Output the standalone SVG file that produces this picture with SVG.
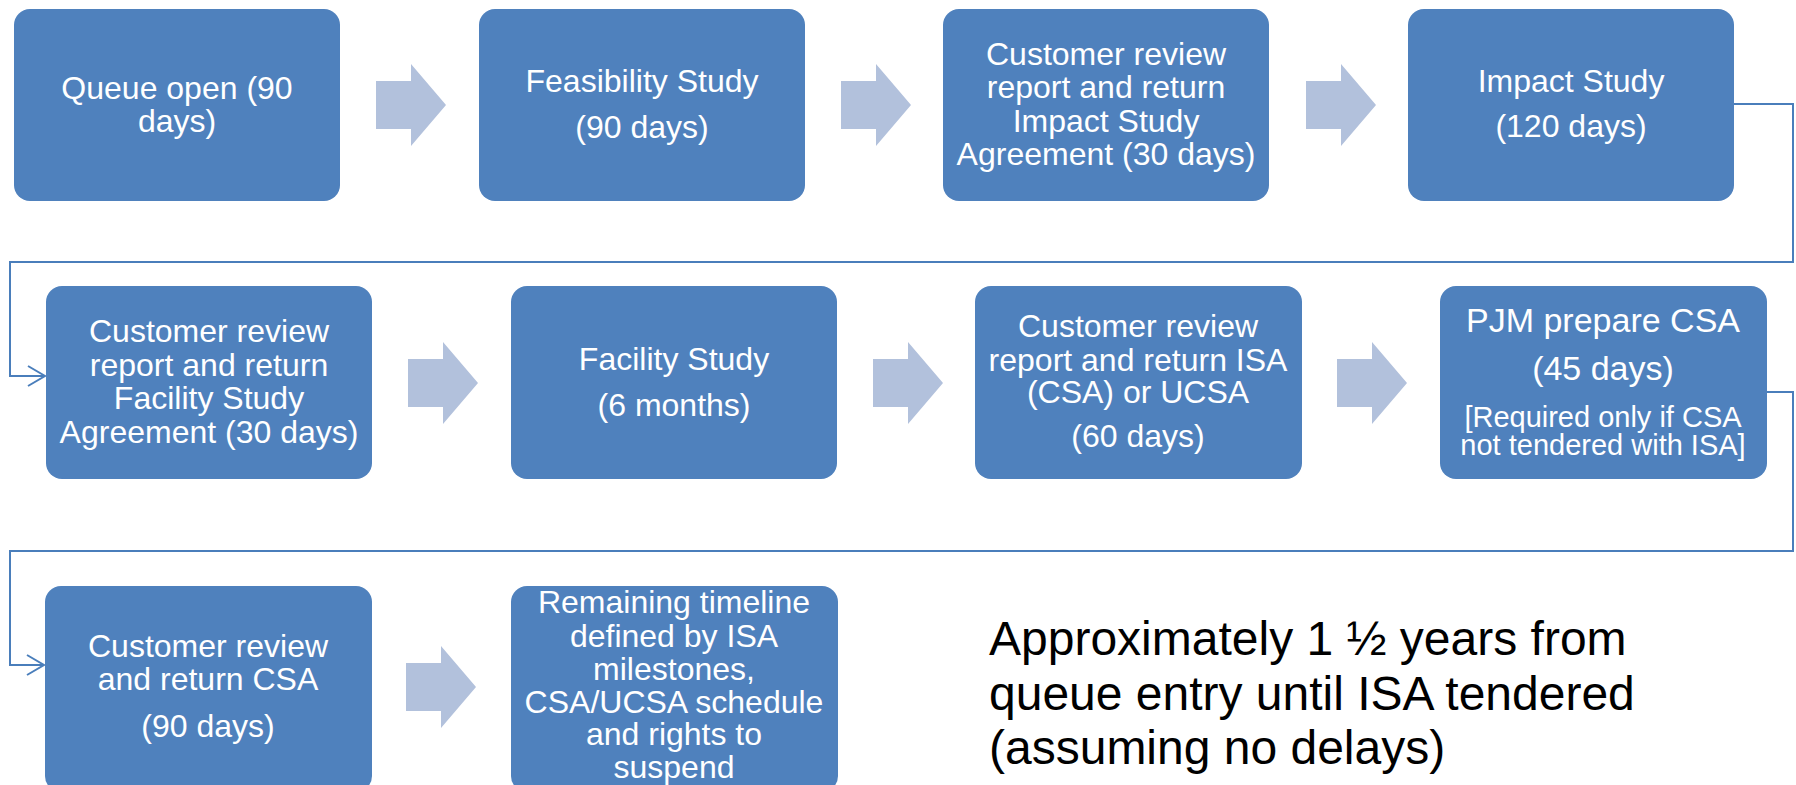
<svg xmlns="http://www.w3.org/2000/svg" width="1796" height="785" viewBox="0 0 1796 785">
  <style>
    .box { fill: #4F81BD; }
    .step { fill: #B2C1DC; }
    .lbl { font-family: "Liberation Sans", Arial, sans-serif; font-size: 32px; fill: #FFFFFF; text-anchor: middle; }
    .big { font-size: 34px; }
    .note { font-size: 29px; }
    .wire { fill: none; stroke: #4A7EBB; stroke-width: 2; }
    .summary { font-family: "Liberation Sans", Arial, sans-serif; font-size: 48px; fill: #000000; }
  </style>
  <defs>
    <!-- chunky right-pointing step arrow, 70 x 82 -->
    <path id="stepArrow" d="M0,17 H35 V0 L70,41 L35,82 V65 H0 Z"/>
    <marker id="chevron" markerUnits="userSpaceOnUse" markerWidth="22" markerHeight="24" refX="18" refY="11" orient="auto">
      <path d="M1,1 L18,11 L1,21" fill="none" stroke="#4A7EBB" stroke-width="2"/>
    </marker>
  </defs>

  <rect width="1796" height="785" fill="#FFFFFF"/>

  <!-- row wrap connectors -->
  <g id="connectors">
    <path class="wire" d="M1734,104 H1793 V262 H10 V376 H45" marker-end="url(#chevron)"/>
    <path class="wire" d="M1767,392 H1793 V551 H10 V665 H44" marker-end="url(#chevron)"/>
  </g>

  <!-- step arrows between boxes -->
  <g id="steps">
    <use href="#stepArrow" class="step" x="376" y="64"/>
    <use href="#stepArrow" class="step" x="841" y="64"/>
    <use href="#stepArrow" class="step" x="1306" y="64"/>
    <use href="#stepArrow" class="step" x="408" y="342"/>
    <use href="#stepArrow" class="step" x="873" y="342"/>
    <use href="#stepArrow" class="step" x="1337" y="342"/>
    <use href="#stepArrow" class="step" x="406" y="646"/>
  </g>

  <!-- row 1 -->
  <g id="queue-open">
    <rect class="box" x="14" y="9" width="326" height="192" rx="16"/>
    <text class="lbl" x="177" y="99">Queue open (90</text>
    <text class="lbl" x="177" y="132">days)</text>
  </g>
  <g id="feasibility-study">
    <rect class="box" x="479" y="9" width="326" height="192" rx="16"/>
    <text class="lbl" x="642" y="92">Feasibility Study</text>
    <text class="lbl" x="642" y="138">(90 days)</text>
  </g>
  <g id="impact-agreement">
    <rect class="box" x="943" y="9" width="326" height="192" rx="16"/>
    <text class="lbl" x="1106" y="65">Customer review</text>
    <text class="lbl" x="1106" y="98">report and return</text>
    <text class="lbl" x="1106" y="132">Impact Study</text>
    <text class="lbl" x="1106" y="165">Agreement (30 days)</text>
  </g>
  <g id="impact-study">
    <rect class="box" x="1408" y="9" width="326" height="192" rx="16"/>
    <text class="lbl" x="1571" y="92">Impact Study</text>
    <text class="lbl" x="1571" y="137">(120 days)</text>
  </g>

  <!-- row 2 -->
  <g id="facility-agreement">
    <rect class="box" x="46" y="286" width="326" height="193" rx="16"/>
    <text class="lbl" x="209" y="342">Customer review</text>
    <text class="lbl" x="209" y="376">report and return</text>
    <text class="lbl" x="209" y="409">Facility Study</text>
    <text class="lbl" x="209" y="443">Agreement (30 days)</text>
  </g>
  <g id="facility-study">
    <rect class="box" x="511" y="286" width="326" height="193" rx="16"/>
    <text class="lbl" x="674" y="370">Facility Study</text>
    <text class="lbl" x="674" y="416">(6 months)</text>
  </g>
  <g id="isa-review">
    <rect class="box" x="975" y="286" width="327" height="193" rx="16"/>
    <text class="lbl" x="1138" y="337">Customer review</text>
    <text class="lbl" x="1138" y="371">report and return ISA</text>
    <text class="lbl" x="1138" y="403">(CSA) or UCSA</text>
    <text class="lbl" x="1138" y="447">(60 days)</text>
  </g>
  <g id="pjm-prepare-csa">
    <rect class="box" x="1440" y="286" width="327" height="193" rx="16"/>
    <text class="lbl big" x="1603" y="332">PJM prepare CSA</text>
    <text class="lbl big" x="1603" y="380">(45 days)</text>
    <text class="lbl note" x="1603" y="427">[Required only if CSA</text>
    <text class="lbl note" x="1603" y="455">not tendered with ISA]</text>
  </g>

  <!-- row 3 -->
  <g id="csa-review">
    <rect class="box" x="45" y="586" width="327" height="206" rx="16"/>
    <text class="lbl" x="208" y="657">Customer review</text>
    <text class="lbl" x="208" y="690">and return CSA</text>
    <text class="lbl" x="208" y="737">(90 days)</text>
  </g>
  <g id="remaining-timeline">
    <rect class="box" x="511" y="586" width="327" height="206" rx="16"/>
    <text class="lbl" x="674" y="613">Remaining timeline</text>
    <text class="lbl" x="674" y="647">defined by ISA</text>
    <text class="lbl" x="674" y="680">milestones,</text>
    <text class="lbl" x="674" y="713">CSA/UCSA schedule</text>
    <text class="lbl" x="674" y="745">and rights to</text>
    <text class="lbl" x="674" y="778">suspend</text>
  </g>

  <!-- overall duration note -->
  <g id="summary">
    <text class="summary" x="989" y="655">Approximately 1 ½ years from</text>
    <text class="summary" x="989" y="710">queue entry until ISA tendered</text>
    <text class="summary" x="989" y="764">(assuming no delays)</text>
  </g>
</svg>
